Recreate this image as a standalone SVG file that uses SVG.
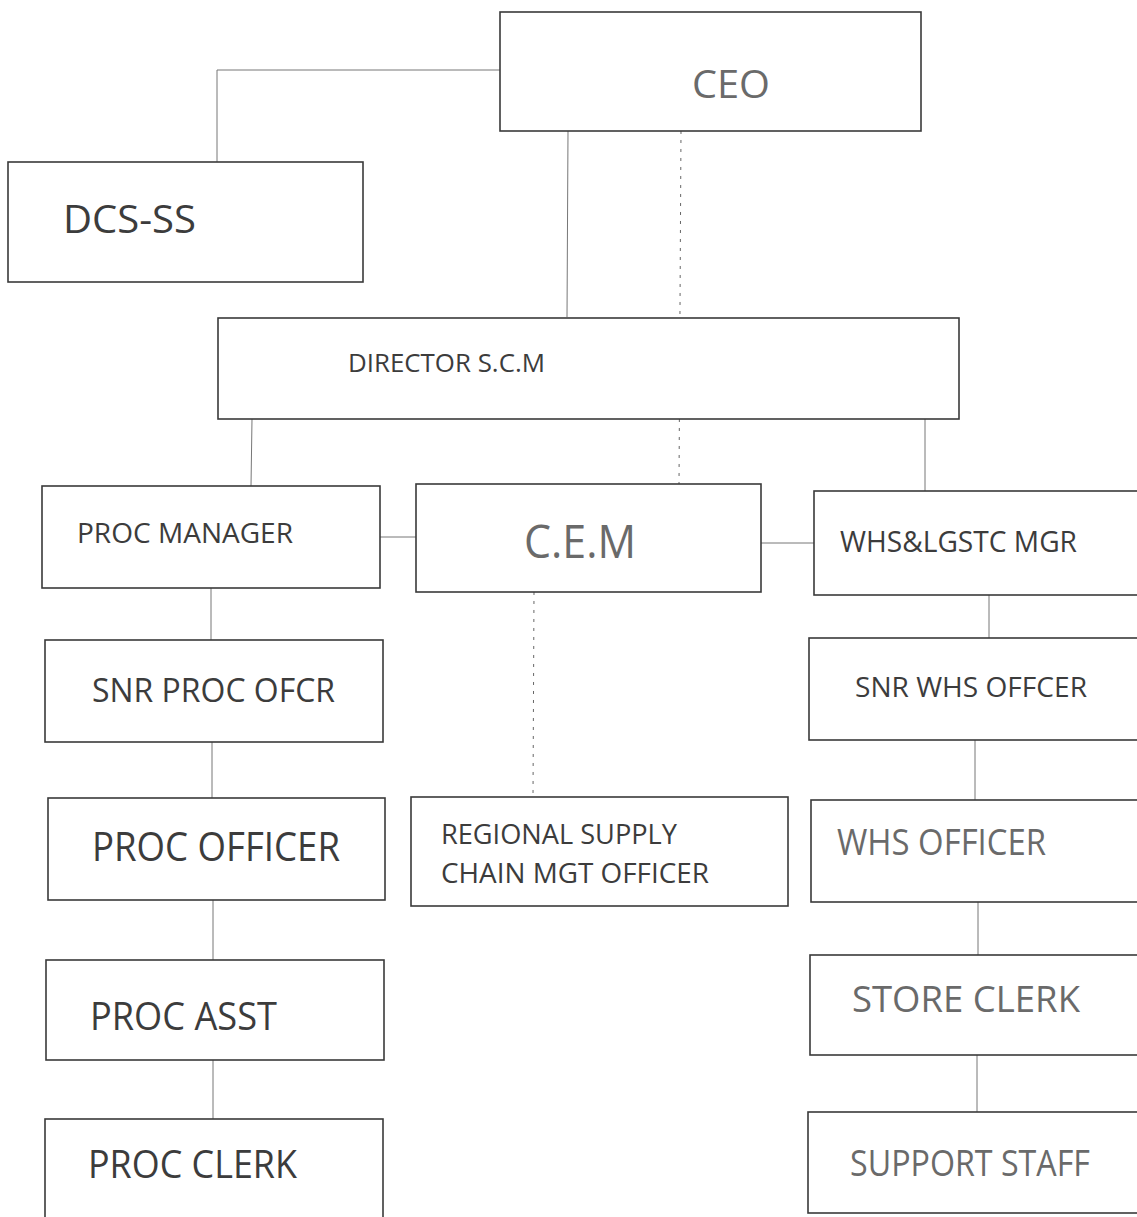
<svg xmlns="http://www.w3.org/2000/svg" width="1137" height="1217" viewBox="0 0 1137 1217">
<style>
.box{fill:#fff;stroke:#3a3a3a;stroke-width:1.6}
.t{font-family:"Open Sans","Noto Sans",sans-serif;fill:#3c3c3c}
.lt{fill:#6a6a6a}
.c{stroke:#777;stroke-width:1;fill:none}
.d{stroke:#666;stroke-width:1;fill:none;stroke-dasharray:3 6}
</style>
<rect width="1137" height="1217" fill="#fff"/>
<g id="connectors">
<polyline class="c" points="500,70 217,70 217,162"/>
<line class="c" x1="568" y1="131" x2="567" y2="317"/>
<line class="d" x1="681" y1="131" x2="679" y2="485"/>
<line class="c" x1="252" y1="419" x2="251" y2="486"/>
<line class="c" x1="925" y1="419" x2="925" y2="491"/>
<line class="c" x1="380" y1="537" x2="416" y2="537"/>
<line class="c" x1="761" y1="543" x2="814" y2="543"/>
<line class="c" x1="211" y1="588" x2="211" y2="640"/>
<line class="d" x1="534" y1="592" x2="533" y2="797"/>
<line class="c" x1="212" y1="742" x2="212" y2="798"/>
<line class="c" x1="213" y1="900" x2="213" y2="960"/>
<line class="c" x1="213" y1="1060" x2="213" y2="1119"/>
<line class="c" x1="989" y1="595" x2="989" y2="638"/>
<line class="c" x1="975" y1="740" x2="975" y2="800"/>
<line class="c" x1="978" y1="902" x2="978" y2="955"/>
<line class="c" x1="977" y1="1055" x2="977" y2="1112"/>
</g>
<g id="ceo"><rect class="box" x="500" y="12" width="421" height="119"/><text class="t lt" x="692" y="98" font-size="39" textLength="78" lengthAdjust="spacingAndGlyphs">CEO</text></g>
<g id="dcs-ss"><rect class="box" x="8" y="162" width="355" height="120"/><text class="t" x="63" y="233" font-size="39" textLength="133" lengthAdjust="spacingAndGlyphs">DCS-SS</text></g>
<g id="director"><rect class="box" x="218" y="318" width="741" height="101"/><text class="t" x="348" y="372" font-size="25" textLength="197" lengthAdjust="spacingAndGlyphs">DIRECTOR S.C.M</text></g>
<g id="proc-manager"><rect class="box" x="42" y="486" width="338" height="102"/><text class="t" x="77" y="543" font-size="28" textLength="216" lengthAdjust="spacingAndGlyphs">PROC MANAGER</text></g>
<g id="cem"><rect class="box" x="416" y="484" width="345" height="108"/><text class="t lt" x="524" y="558" font-size="45" textLength="112" lengthAdjust="spacingAndGlyphs">C.E.M</text></g>
<g id="whs-mgr"><rect class="box" x="814" y="491" width="330" height="104"/><text class="t" x="840" y="552" font-size="29" textLength="237" lengthAdjust="spacingAndGlyphs">WHS&amp;LGSTC MGR</text></g>
<g id="snr-proc"><rect class="box" x="45" y="640" width="338" height="102"/><text class="t" x="92" y="702" font-size="32" textLength="243" lengthAdjust="spacingAndGlyphs">SNR PROC OFCR</text></g>
<g id="proc-officer"><rect class="box" x="48" y="798" width="337" height="102"/><text class="t" x="92" y="861" font-size="40" textLength="248" lengthAdjust="spacingAndGlyphs">PROC OFFICER</text></g>
<g id="regional"><rect class="box" x="411" y="797" width="377" height="109"/><text class="t" x="441" y="844" font-size="28" textLength="236" lengthAdjust="spacingAndGlyphs">REGIONAL SUPPLY</text><text class="t" x="441" y="883" font-size="28" textLength="268" lengthAdjust="spacingAndGlyphs">CHAIN MGT OFFICER</text></g>
<g id="proc-asst"><rect class="box" x="46" y="960" width="338" height="100"/><text class="t" x="90" y="1030" font-size="38" textLength="187" lengthAdjust="spacingAndGlyphs">PROC ASST</text></g>
<g id="proc-clerk"><rect class="box" x="45" y="1119" width="338" height="110"/><text class="t" x="88" y="1178" font-size="38" textLength="209" lengthAdjust="spacingAndGlyphs">PROC CLERK</text></g>
<g id="snr-whs"><rect class="box" x="809" y="638" width="335" height="102"/><text class="t" x="855" y="697" font-size="28" textLength="232" lengthAdjust="spacingAndGlyphs">SNR WHS OFFCER</text></g>
<g id="whs-officer"><rect class="box" x="811" y="800" width="333" height="102"/><text class="t lt" x="837" y="855" font-size="37" textLength="209" lengthAdjust="spacingAndGlyphs">WHS OFFICER</text></g>
<g id="store-clerk"><rect class="box" x="810" y="955" width="334" height="100"/><text class="t lt" x="852" y="1012" font-size="37" textLength="228" lengthAdjust="spacingAndGlyphs">STORE CLERK</text></g>
<g id="support-staff"><rect class="box" x="808" y="1112" width="336" height="101"/><text class="t lt" x="850" y="1176" font-size="36" textLength="240" lengthAdjust="spacingAndGlyphs">SUPPORT STAFF</text></g>
</svg>
